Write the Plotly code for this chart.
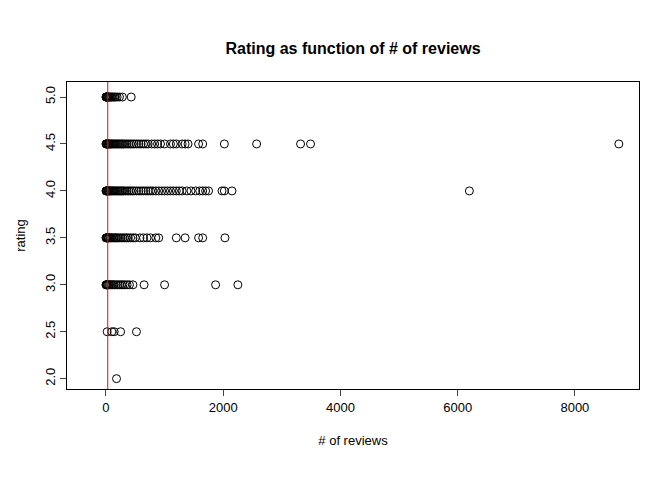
import plotly.graph_objects as go

# reviews per rating level
reviews_5_0 = [0, 3, 6, 10, 15, 20, 28, 35, 45, 55, 70, 85, 100, 120, 140, 160, 190, 230, 280, 430]
reviews_4_5 = [0, 5, 10, 20, 30, 40, 50, 60, 75, 90, 105, 120, 140, 160, 180, 200, 220, 240, 260,
               280, 300, 330, 360, 390, 420, 450, 480, 520, 560, 600, 640, 680, 720, 780, 830,
               880, 930, 1000, 1100, 1150, 1200, 1300, 1350, 1400, 1580, 1650, 2020, 2570,
               3320, 3490, 8750]
reviews_4_0 = [0, 5, 10, 20, 30, 40, 50, 60, 75, 90, 105, 120, 140, 160, 180, 200, 220, 240, 260,
               280, 300, 330, 360, 390, 420, 450, 480, 520, 560, 600, 640, 680, 720, 760, 800,
               850, 900, 950, 1000, 1050, 1100, 1150, 1200, 1250, 1300, 1380, 1450, 1530, 1600,
               1650, 1700, 1750, 1980, 2020, 2150, 6200]
reviews_3_5 = [0, 5, 10, 20, 30, 40, 50, 65, 80, 100, 120, 140, 160, 180, 200, 230, 260, 290,
               320, 350, 380, 420, 460, 500, 580, 640, 700, 760, 850, 900, 1200, 1350, 1580,
               1650, 2030]
reviews_3_0 = [0, 5, 10, 20, 30, 45, 60, 80, 100, 120, 140, 170, 200, 230, 260, 290, 320, 360,
               400, 460, 650, 1000, 1870, 2250]
reviews_2_5 = [20, 100, 140, 250, 520]
reviews_2_0 = [180]

groups = [(5.0, reviews_5_0), (4.5, reviews_4_5), (4.0, reviews_4_0), (3.5, reviews_3_5),
          (3.0, reviews_3_0), (2.5, reviews_2_5), (2.0, reviews_2_0)]
xs, ys = [], []
for r, vals in groups:
    xs += vals
    ys += [r] * len(vals)

mean_line_x = 30

fig = go.Figure()
fig.add_trace(go.Scatter(x=xs, y=ys, mode="markers",
                         marker=dict(symbol="circle-open", size=8, color="black",
                                     line=dict(width=1, color="black"))))
fig.add_trace(go.Scatter(x=[mean_line_x, mean_line_x], y=[1.89, 5.16], mode="lines",
                         line=dict(color="red", width=1)))
fig.update_layout(
    width=672, height=480, showlegend=False,
    plot_bgcolor="white", paper_bgcolor="white",
    font=dict(family="Liberation Sans, Arial", size=13, color="black"),
    margin=dict(l=59, r=41, t=74, b=99, autoexpand=False),
    title=dict(text="<b>Rating as function of # of reviews</b>", x=0.5, xanchor="center",
               xref="paper", yref="container", y=1 - 40 / 480, yanchor="middle",
               font=dict(size=16)),
    xaxis=dict(range=[-665, 9094], tickvals=[0, 2000, 4000, 6000, 8000], showgrid=False,
               zeroline=False, showline=True, mirror=True, linecolor="black", ticks="outside",
               ticklen=6, automargin=False, title=dict(text="# of reviews", standoff=22,
                                                       font=dict(size=13))),
    yaxis=dict(range=[1.89, 5.16], tickvals=[2.0, 2.5, 3.0, 3.5, 4.0, 4.5, 5.0],
               ticktext=["2.0", "2.5", "3.0", "3.5", "4.0", "4.5", "5.0"], tickangle=-90,
               showgrid=False, zeroline=False, showline=True, mirror=True, linecolor="black",
               ticks="outside", ticklen=6, automargin=False,
               title=dict(text="rating", standoff=14, font=dict(size=13))),
)
fig.write_html("out.html")
